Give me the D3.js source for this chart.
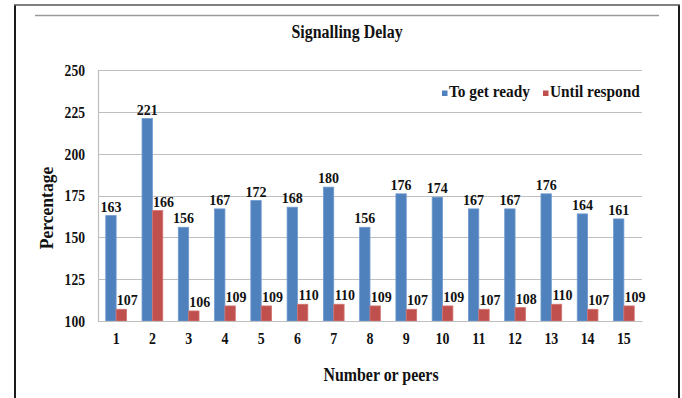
<!DOCTYPE html>
<html>
<head>
<meta charset="utf-8">
<script src="https://cdn.jsdelivr.net/npm/d3@7"></script>
<style>
  html, body { margin: 0; padding: 0; background: #fff; }
  svg { display: block; }
  svg text { font-family: 'Liberation Serif', 'Times New Roman', Times, serif !important; font-weight: bold; fill: #111; }
</style>
</head>
<body>
<svg id="chart" width="682" height="398"></svg>
<script>
const categories = ["1","2","3","4","5","6","7","8","9","10","11","12","13","14","15"];
const seriesNames = ["To get ready", "Until respond"];
const toGetReady = [163, 221, 156, 167, 172, 168, 180, 156, 176, 174, 167, 167, 176, 164, 161];
const untilRespond = [107, 166, 106, 109, 109, 110, 110, 109, 107, 109, 107, 108, 110, 107, 109];
const yTicks = [100, 125, 150, 175, 200, 225, 250];
const titleText = "Signalling Delay";
const xTitle = "Number or peers";
const yTitle = "Percentage";

const colors = ["#4F81BD", "#C0504D"];
const series = [toGetReady, untilRespond];
const FONT = "'Liberation Serif', 'Times New Roman', Times, serif";

const svg = d3.select("#chart").attr("font-family", FONT);
const W = 682, H = 398;
const plot = { left: 98, right: 642, top: 70, bottom: 321 };

// outer frame
svg.append("line").attr("x1", 15).attr("x2", 15).attr("y1", 5).attr("y2", H + 5)
  .attr("stroke", "#1a1a1a").attr("stroke-width", 2);
svg.append("line").attr("x1", 679).attr("x2", 679).attr("y1", 5).attr("y2", H + 5)
  .attr("stroke", "#1a1a1a").attr("stroke-width", 2);
svg.append("line").attr("x1", 14).attr("x2", 680).attr("y1", 5).attr("y2", 5)
  .attr("stroke", "#555").attr("stroke-width", 1.5);
svg.append("line").attr("x1", 35).attr("x2", 659).attr("y1", 15.5).attr("y2", 15.5)
  .attr("stroke", "#9a9a9a").attr("stroke-width", 1.5);

const x = d3.scaleBand().domain(categories).range([plot.left, plot.right]).paddingInner(0).paddingOuter(0);
const y = d3.scaleLinear().domain([100, 250]).range([plot.bottom, plot.top]);
const inner = d3.scaleBand().domain(d3.range(series.length)).range([0, x.bandwidth()]).paddingOuter(0.75).paddingInner(0);

// gridlines
svg.append("g").selectAll("line").data(yTicks).join("line")
  .attr("x1", plot.left).attr("x2", plot.right)
  .attr("y1", d => Math.round(y(d)) + 0.5).attr("y2", d => Math.round(y(d)) + 0.5)
  .attr("stroke", "#BFBFBF").attr("stroke-width", 1.2);
svg.append("line").attr("x1", plot.left + 0.5).attr("x2", plot.left + 0.5)
  .attr("y1", plot.top).attr("y2", plot.bottom)
  .attr("stroke", "#BFBFBF").attr("stroke-width", 1.2);

// bars
series.forEach((vals, si) => {
  svg.append("g").selectAll("rect").data(vals).join("rect")
    .attr("x", (d, i) => x(categories[i]) + inner(si))
    .attr("width", inner.bandwidth())
    .attr("y", d => y(d))
    .attr("height", d => y(100) - y(d))
    .attr("fill", colors[si])
    .attr("stroke", si === 0 ? "#6f9ad0" : "#d07370")
    .attr("stroke-width", 0.8);
});

// data labels
series.forEach((vals, si) => {
  svg.append("g").selectAll("text").data(vals).join("text")
    .attr("x", (d, i) => x(categories[i]) + inner(si) + inner.bandwidth() / 2 + (si === 1 ? 6 : 0))
    .attr("y", d => y(d) - 4)
    .attr("text-anchor", "middle")
    .style("font-family", FONT)
    .style("font-size", "14px")
    .text(d => d);
});

// y axis tick labels
const yAxis = d3.axisLeft(y).tickValues(yTicks).tickSize(0).tickPadding(0);
const yg = svg.append("g").attr("transform", `translate(85,0)`).call(yAxis);
yg.attr("font-family", FONT).attr("font-size", null);
yg.select(".domain").remove();
yg.selectAll("text").style("font-family", FONT)
  .style("font-size", "16px").attr("dy", "0.34em").attr("x", 0)
  .attr("transform", "scale(0.85,1)");

// x axis tick labels
const xAxis = d3.axisBottom(x).tickSize(0).tickPadding(0);
const xg = svg.append("g").attr("transform", `translate(0,${plot.bottom})`).call(xAxis);
xg.attr("font-family", FONT).attr("font-size", null);
xg.select(".domain").attr("stroke", "#BFBFBF").attr("stroke-width", 1.2);
xg.selectAll("text").style("font-family", FONT)
  .style("font-size", "16px").attr("dy", null).attr("y", 23)
  .attr("transform", "scale(0.87,1)");

// title
svg.append("text").attr("transform", "translate(347,38) scale(0.84,1)")
  .attr("text-anchor", "middle").style("font-family", FONT).style("font-size", "19px").text(titleText);

// axis titles
svg.append("text").attr("transform", "translate(381,381) scale(0.86,1)")
  .attr("text-anchor", "middle").style("font-family", FONT).style("font-size", "18.5px").text(xTitle);
svg.append("text").attr("transform", "translate(53,208) rotate(-90) scale(0.95,1)")
  .attr("text-anchor", "middle").style("font-family", FONT).style("font-size", "18.5px").text(yTitle);

// legend
const legendX = [442, 543];
seriesNames.forEach((name, i) => {
  svg.append("rect").attr("x", legendX[i]).attr("y", 90.5).attr("width", 5.5).attr("height", 5.5)
    .attr("fill", colors[i]);
  svg.append("text").attr("transform", `translate(${legendX[i] + 7},97) scale(0.96,1)`)
    .style("font-family", FONT).style("font-size", "16px").text(name);
});
</script>
</body>
</html>
